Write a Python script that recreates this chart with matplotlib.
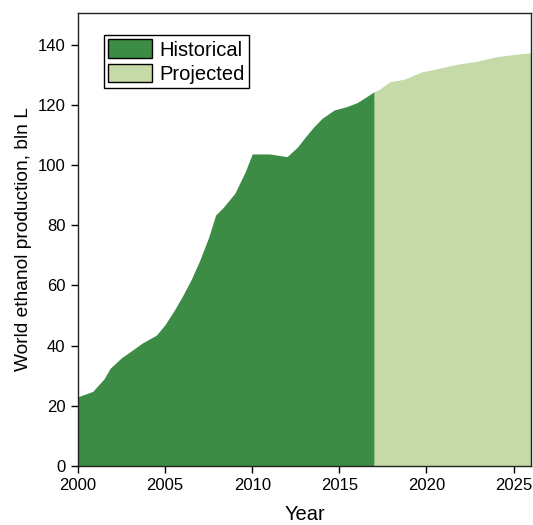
import matplotlib
matplotlib.use("Agg")
import matplotlib.pyplot as plt
from matplotlib.patches import Patch

plt.rcParams["font.family"] = ["Liberation Sans", "DejaVu Sans"]

# values (bln L)
hist_years = [2000, 2000.85, 2001.5, 2001.85, 2002.5, 2003, 2003.7, 2004.5, 2005,
              2005.5, 2006, 2006.5, 2007, 2007.5, 2007.9, 2008.3, 2009, 2009.6,
              2010, 2011, 2012, 2012.6, 2013, 2013.5, 2014, 2014.7, 2015.4, 2016,
              2016.5, 2017]
hist_values = [23, 24.8, 29, 32.5, 36, 38, 40.9, 43.5, 47,
               51.5, 56.5, 62, 68.5, 76, 83.4, 85.7, 90.6, 97.8,
               103.7, 103.7, 102.8, 106, 109, 112.5, 115.5, 118.3, 119.4, 120.7,
               122.5, 124.4]

proj_years = [2017, 2017.25, 2017.9, 2018.7, 2019.75, 2020.3, 2020.8, 2021.75,
              2022.9, 2024, 2025.2, 2026]
proj_values = [124.4, 125, 127.7, 128.5, 131, 131.6, 132.3, 133.5,
               134.5, 136, 136.9, 137.3]

hist_color = "#3d8c45"
proj_color = "#c5daa7"

fig = plt.figure(figsize=(5.33, 5.25), dpi=100)
ax = fig.add_axes([0.1463, 0.1124, 0.8499, 0.8626])

ax.fill_between(hist_years, 0, hist_values, color=hist_color, linewidth=0)
ax.fill_between(proj_years, 0, proj_values, color=proj_color, linewidth=0)

ax.set_xlim(2000, 2026)
ax.set_ylim(0, 150.5)
ax.set_xticks([2000, 2005, 2010, 2015, 2020, 2025])
ax.set_yticks(range(0, 141, 20))
ax.tick_params(direction="out", length=5, width=1, pad=4, labelsize=12,
               colors="black")
for side in ax.spines.values():
    side.set_linewidth(1)
    side.set_color("#222222")

ax.set_xlabel("Year", fontsize=14.5, labelpad=8)
ax.set_ylabel("World ethanol production, bln L", fontsize=13.8, labelpad=4)

handles = [Patch(facecolor=hist_color, edgecolor="black", label="Historical"),
           Patch(facecolor=proj_color, edgecolor="black", label="Projected")]
leg = ax.legend(handles=handles, loc="upper left", bbox_to_anchor=(0.057, 0.951),
                fontsize=14.5, frameon=True, fancybox=False, framealpha=1,
                edgecolor="black", handlelength=2.2, handleheight=1.05,
                handletextpad=0.35, borderpad=0.2, labelspacing=0.2,
                borderaxespad=0)
leg.get_frame().set_linewidth(1)

fig.savefig("out.png", dpi=100)
